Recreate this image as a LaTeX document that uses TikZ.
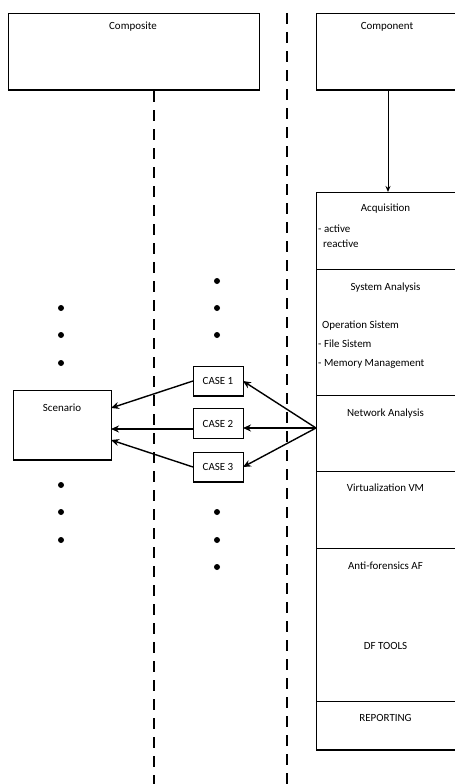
\documentclass[tikz,border=0pt]{standalone}
\usepackage{fontspec}
\setmainfont{Carlito}
\usetikzlibrary{arrows.meta}
\tikzset{
  box/.style={draw, line width=0.8bp, inner sep=0, outer sep=0},
  lbl/.style={font=\fontsize{11}{13}\selectfont, inner sep=0, anchor=base},
  llbl/.style={font=\fontsize{11}{13}\selectfont, inner sep=0, anchor=base west},
  arr/.style={-{Stealth[length=8bp,width=7bp]}, line width=1.4bp},
  lifeline/.style={line width=1.8bp, dash pattern=on 11bp off 8bp},
  dot/.style={circle, fill, inner sep=0, minimum size=6bp},
  shade/.style={line width=1.8bp}
}
\begin{document}
\begin{tikzpicture}[x=1bp,y=-1bp]
\useasboundingbox (0,0) rectangle (455,784);
% top boxes
\node[box, minimum width=251bp, minimum height=77bp] (composite) at (133.5,51.5) {};
\node[lbl] (compositeT) at (133,30) {Composite};
\node[box, minimum width=140bp, minimum height=77bp] (component) at (386,51.5) {};
\node[lbl] (componentT) at (387,30) {Component};
\draw[shade] (composite.south west) -- (composite.south east);
\draw[shade] (component.south west) -- (component.south east);
% lifelines
\coordinate (l1a) at (154,91);
\coordinate (l1b) at (154,784);
\coordinate (l2a) at (287,13);
\coordinate (l2b) at (287,784);
\draw[lifeline] (l1a) -- (l1b);
\draw[lifeline] (l2a) -- (l2b);
% right column
\node[box, minimum width=140bp, minimum height=77bp] (acq) at (386,230.5) {};
\node[box, minimum width=140bp, minimum height=126bp] (sys) at (386,332) {};
\node[box, minimum width=140bp, minimum height=76bp] (net) at (386,433) {};
\node[box, minimum width=140bp, minimum height=77bp] (virt) at (386,509.5) {};
\node[box, minimum width=140bp, minimum height=153bp] (anti) at (386,624.5) {};
\node[box, minimum width=140bp, minimum height=49bp] (rep) at (386,725.5) {};
\draw[shade] (rep.south west) -- (rep.south east);
\draw[-{Stealth[length=6bp,width=5bp]}, line width=1bp] (388,91) -- (388,192);
\node[lbl] (acqT) at (385.5,211) {Acquisition};
\node[llbl] (acq1) at (318,232) {- active};
\node[llbl] (acq2) at (323,247) {reactive};
\node[lbl] (sysT) at (385.5,290) {System Analysis};
\node[llbl] (sys1) at (322,328) {Operation Sistem};
\node[llbl] (sys2) at (318,347) {- File Sistem};
\node[llbl] (sys3) at (318,366) {- Memory Management};
\node[lbl] (netT) at (385.5,416) {Network Analysis};
\node[lbl] (virtT) at (385.5,491) {Virtualization VM};
\node[lbl] (antiT) at (385.5,569) {Anti-forensics AF};
\node[lbl] (dfT) at (385.5,649) {DF TOOLS};
\node[lbl] (repT) at (385.5,721) {REPORTING};
% scenario
\node[box, minimum width=98bp, minimum height=70bp] (scen) at (62,425) {};
\draw[shade] (scen.south west) -- (scen.south east);
\node[lbl] (scenT) at (62,411) {Scenario};
% cases
\node[box, minimum width=50bp, minimum height=30bp, font=\fontsize{11}{13}\selectfont] (case1) at (218,381) {CASE 1};
\node[box, minimum width=50bp, minimum height=30bp, font=\fontsize{11}{13}\selectfont] (case2) at (218,423.5) {CASE 2};
\node[box, minimum width=50bp, minimum height=30bp, font=\fontsize{11}{13}\selectfont] (case3) at (218,467) {CASE 3};
\draw[shade] (case1.south west) -- (case1.south east);
\draw[shade] (case2.south west) -- (case2.south east);
\draw[shade] (case3.south west) -- (case3.south east);
% arrows
\coordinate (src) at (316,428);
\coordinate (s1) at (111,408);
\coordinate (s2) at (111,429);
\coordinate (s3) at (111,440);
\draw[arr] (src) -- (case1.east);
\draw[arr] (src) -- (case2.east |- src);
\draw[arr] (src) -- (case3.east);
\draw[arr] (case1.west) -- (s1);
\draw[arr] (case2.west |- s2) -- (s2);
\draw[arr] (case3.west) -- (s3);
% dots
\node[dot] (dl1) at (61,308) {};
\node[dot] (dl2) at (61,335) {};
\node[dot] (dl3) at (61,363) {};
\node[dot] (dl4) at (61,485) {};
\node[dot] (dl5) at (61,512) {};
\node[dot] (dl6) at (61,540) {};
\node[dot] (dm1) at (217,281) {};
\node[dot] (dm2) at (217,308) {};
\node[dot] (dm3) at (217,335) {};
\node[dot] (dm4) at (217,512) {};
\node[dot] (dm5) at (217,540) {};
\node[dot] (dm6) at (217,567) {};
\end{tikzpicture}
\end{document}
